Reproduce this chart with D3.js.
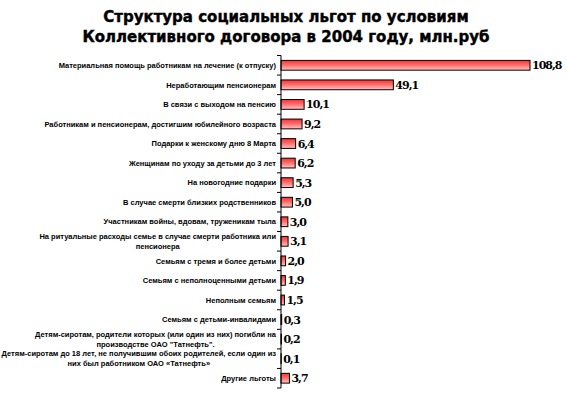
<!DOCTYPE html>
<html>
<head>
<meta charset="utf-8">
<script src="https://cdn.jsdelivr.net/npm/d3@7"></script>
<style>
  body { margin: 0; background: #fff; }
  svg { display: block; }
</style>
</head>
<body>
<div id="chart"></div>
<script>
var titleLines = ["Структура социальных льгот по условиям",
                  "Коллективного договора в 2004 году, млн.руб"];

var categories = [
  ["Материальная помощь работникам на лечение (к отпуску)"],
  ["Неработающим пенсионерам"],
  ["В связи с выходом на пенсию"],
  ["Работникам и пенсионерам, достигшим юбилейного возраста"],
  ["Подарки к женскому дню 8 Марта"],
  ["Женщинам по уходу за детьми до 3 лет"],
  ["На новогодние подарки"],
  ["В случае смерти близких родственников"],
  ["Участникам войны,  вдовам, труженикам тыла"],
  ["На ритуальные расходы семье в случае смерти работника или", "пенсионера"],
  ["Семьям с тремя и более детьми"],
  ["Семьям с неполноценными детьми"],
  ["Неполным семьям"],
  ["Семьям с детьми-инвалидами"],
  ["Детям-сиротам, родители которых (или один из них) погибли на", "производстве ОАО \"Татнефть\"."],
  ["Детям-сиротам до 18 лет, не получившим обоих родителей, если один из", "них был работником ОАО «Татнефть»"],
  ["Другие льготы"]
];

var values = [108.8, 49.1, 10.1, 9.2, 6.4, 6.2, 5.3, 5.0, 3.0, 3.1, 2.0, 1.9, 1.5, 0.3, 0.2, 0.1, 3.7];

var width = 567;
var height = 399;
var axisX = 281;
var plotTop = 55.5;
var plotBottom = 388;

var svg = d3.select("#chart")
  .append("svg")
  .attr("width", width)
  .attr("height", height);

var grad = svg.append("defs").append("linearGradient")
  .attr("id", "barfill")
  .attr("x1", 0).attr("x2", 0).attr("y1", 0).attr("y2", 1);
grad.append("stop").attr("offset", "0%").attr("stop-color", "#ff3030");
grad.append("stop").attr("offset", "45%").attr("stop-color", "#ff6a6a");
grad.append("stop").attr("offset", "100%").attr("stop-color", "#ffc4c4");

var idx = d3.range(values.length);

var y = d3.scaleBand()
  .domain(idx)
  .range([plotTop, plotBottom])
  .paddingInner(0.5)
  .paddingOuter(0.25);

var x = d3.scaleLinear()
  .domain([0, 108.8])
  .range([axisX, 530]);

// title
svg.append("g").selectAll("text")
  .data(titleLines)
  .enter()
  .append("text")
  .attr("x", 286)
  .attr("y", function(d, i) { return 22 + i * 20; })
  .attr("text-anchor", "middle")
  .style("font-family", "'DejaVu Sans', sans-serif")
  .style("font-weight", "bold")
  .style("font-size", "15px")
  .style("stroke", "#000")
  .style("stroke-width", 0.4)
  .text(function(d) { return d; });

// bars
svg.append("g").selectAll("rect")
  .data(values)
  .enter()
  .append("rect")
  .attr("x", x(0))
  .attr("y", function(d, i) { return y(i); })
  .attr("width", function(d) { return x(d) - x(0); })
  .attr("height", y.bandwidth())
  .attr("fill", "url(#barfill)")
  .attr("stroke", "#000")
  .attr("stroke-width", 1);

// value labels
svg.append("g").selectAll("text")
  .data(values)
  .enter()
  .append("text")
  .attr("x", function(d) { return x(d) + 2; })
  .attr("y", function(d, i) { return y(i) + y.bandwidth() / 2 + 4; })
  .style("font-family", "'DejaVu Serif', serif")
  .style("font-weight", "bold")
  .style("font-size", "11px")
  .style("letter-spacing", "-1px")
  .text(function(d) { return d3.format(".1f")(d).replace(".", ","); });

// axis with ticks between categories
svg.append("line")
  .attr("x1", axisX).attr("x2", axisX)
  .attr("y1", plotTop).attr("y2", plotBottom)
  .attr("stroke", "#000");

var bounds = d3.range(values.length + 1).map(function(i) {
  return plotTop + i * (plotBottom - plotTop) / values.length;
});
svg.append("g").selectAll("line")
  .data(bounds)
  .enter()
  .append("line")
  .attr("x1", axisX - 4).attr("x2", axisX)
  .attr("y1", function(d) { return d; })
  .attr("y2", function(d) { return d; })
  .attr("stroke", "#000");

// category labels
var labels = svg.append("g").selectAll("g")
  .data(categories)
  .enter()
  .append("g");

labels.each(function(lines, i) {
  var g = d3.select(this);
  var cy = y(i) + y.bandwidth() / 2;
  var lh = 10;
  var t = g.selectAll("text")
    .data(lines)
    .enter()
    .append("text")
    .attr("text-anchor", "middle")
    .attr("y", function(d, j) { return cy + 2.7 + (j - (lines.length - 1) / 2) * lh; })
    .style("font-family", "'Liberation Sans', Arial, sans-serif")
    .style("font-weight", "bold")
    .style("font-size", "7.5px")
    .text(function(d) { return d; });
  var w = d3.max(t.nodes(), function(n) { return n.getComputedTextLength(); });
  t.attr("x", 276 - w / 2);
});
</script>
</body>
</html>
